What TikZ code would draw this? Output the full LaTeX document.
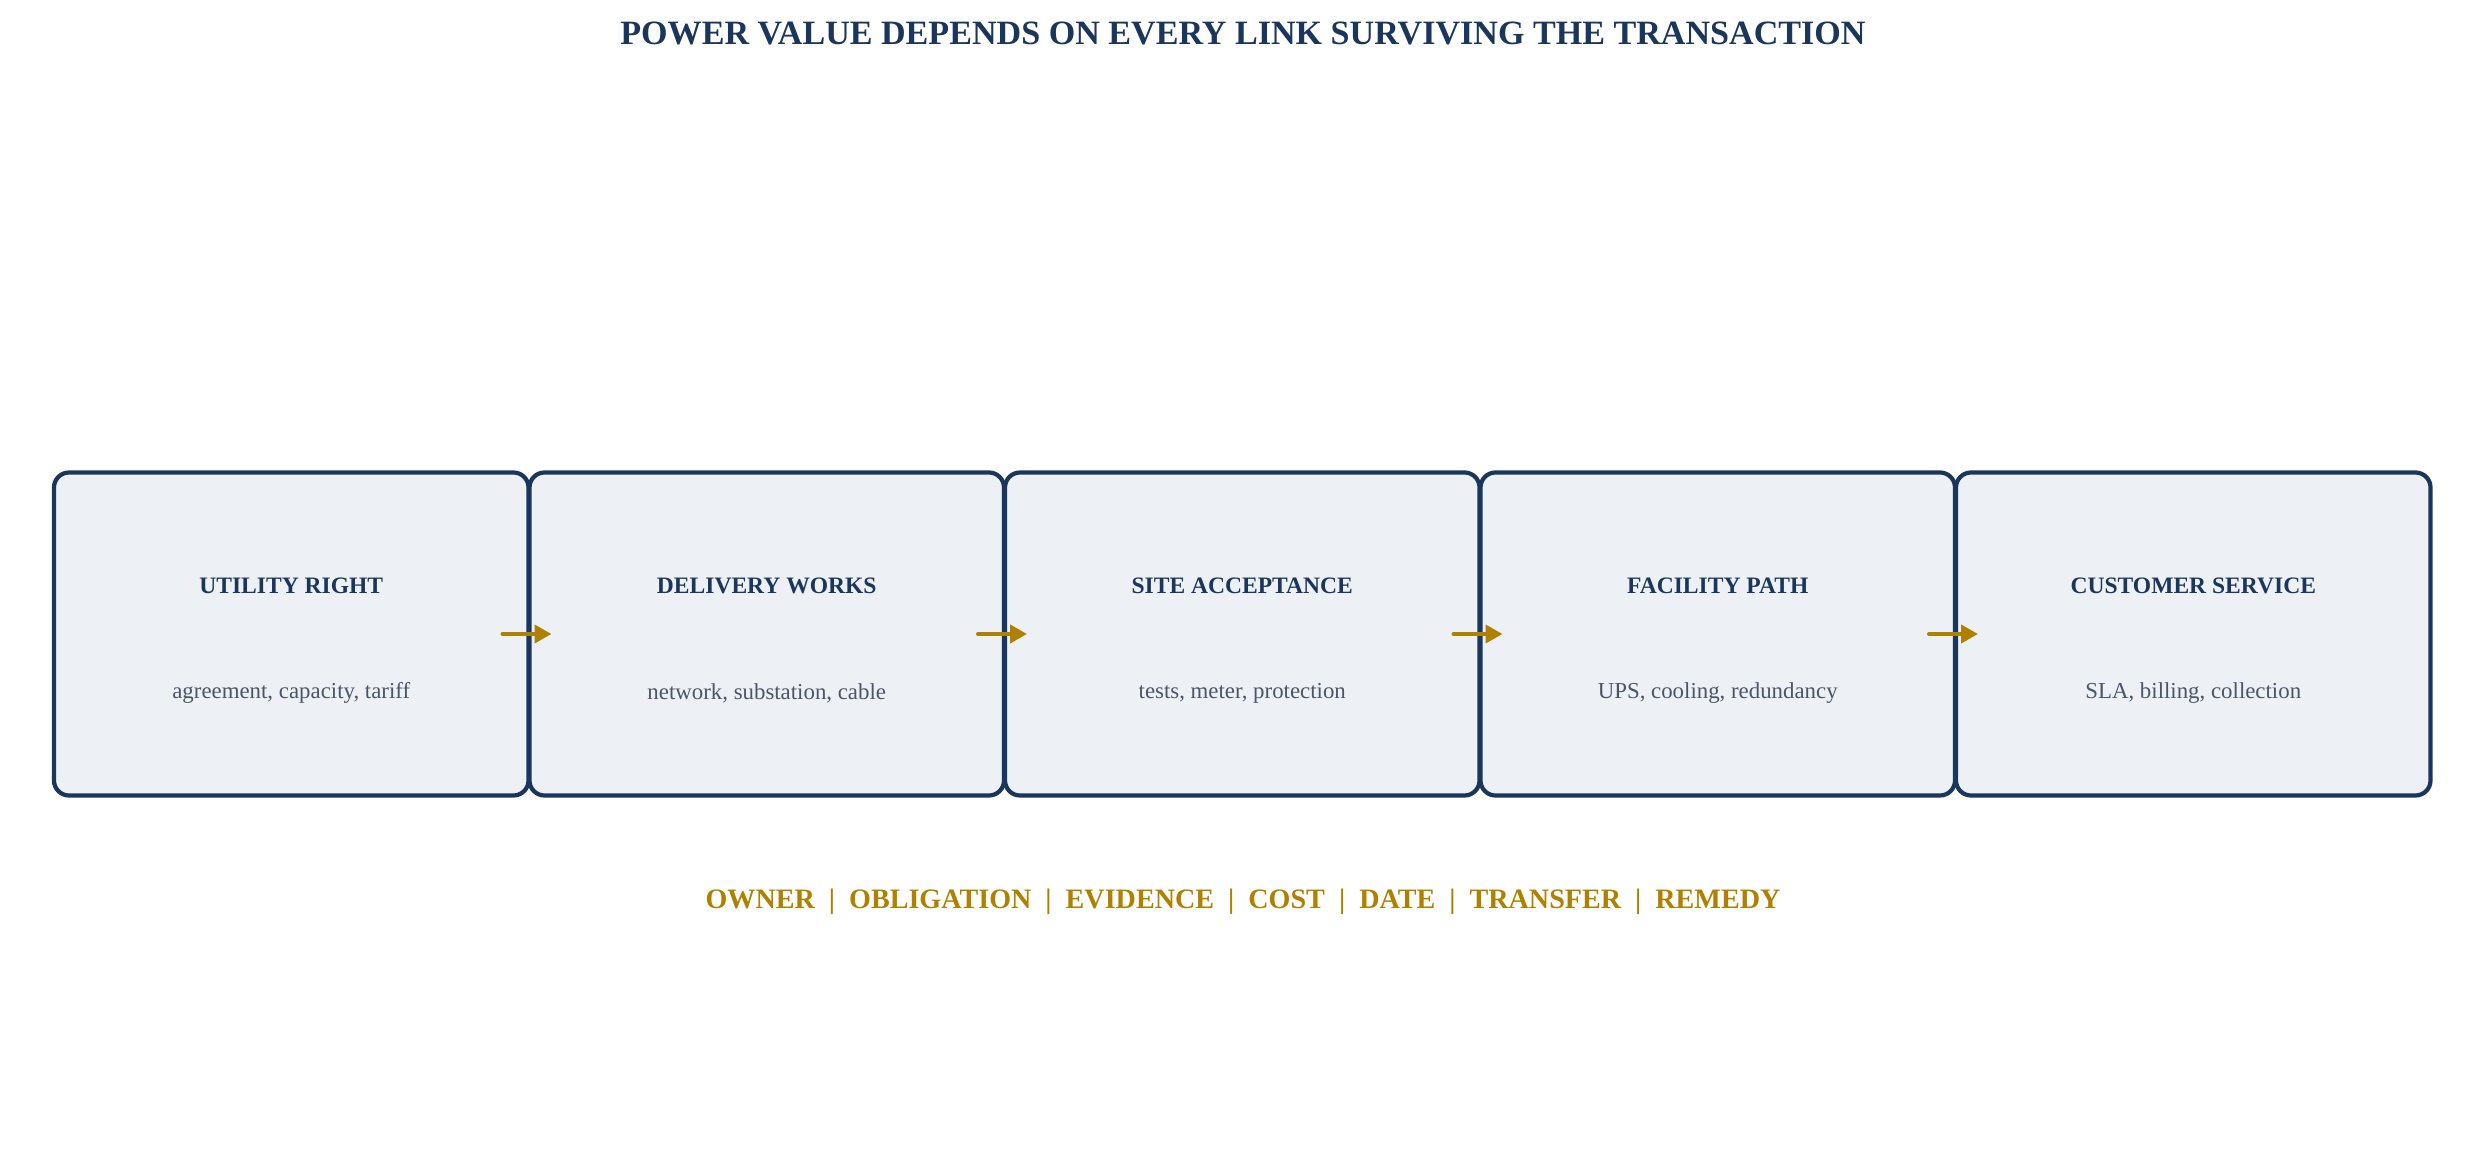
\documentclass[tikz,border=0pt]{standalone}
\usepackage{fontspec}
\setmainfont{Liberation Serif}
\usepackage{xcolor}
\usepackage{tikz}
\usetikzlibrary{shapes,arrows.meta,positioning,calc}

\definecolor{navy}{HTML}{1B365D}
\definecolor{gold}{HTML}{B08000}
\definecolor{paleblue}{HTML}{EDF1F5}
\definecolor{slate}{HTML}{4A5568}

\tikzset{
  linkbox/.style={draw=navy, fill=paleblue, line width=1.2pt, rounded corners=0.15cm,
    minimum width=4.745cm, minimum height=3.23cm, outer sep=0pt, inner sep=0pt},
  linkhead/.style={text=navy, font=\fontsize{6.7}{8}\selectfont\bfseries},
  linksub/.style={text=slate, font=\fontsize{6.5}{8}\selectfont},
  linkarrow/.style={draw=gold, line width=1.15pt, line cap=round,
    -{Triangle[length=0.17cm, width=0.18cm]}}
}

\begin{document}
\begin{tikzpicture}
\useasboundingbox (0,0) rectangle (24.86,11.66);

% Title
\node[text=navy, font=\fontsize{9.7}{12}\selectfont\bfseries] (title) at (12.43,11.33)
  {POWER VALUE DEPENDS ON EVERY LINK SURVIVING THE TRANSACTION};

% Chain of links
\node[linkbox] (b1) at (2.9125,5.32) {};
\node[linkbox, right=0.01cm of b1] (b2) {};
\node[linkbox, right=0.01cm of b2] (b3) {};
\node[linkbox, right=0.01cm of b3] (b4) {};
\node[linkbox, right=0.01cm of b4] (b5) {};

\foreach \i/\head/\sub in {1/UTILITY RIGHT/{agreement, capacity, tariff},
    2/DELIVERY WORKS/{network, substation, cable},
    3/SITE ACCEPTANCE/{tests, meter, protection},
    4/FACILITY PATH/{UPS, cooling, redundancy},
    5/CUSTOMER SERVICE/{SLA, billing, collection}} {
  \node[linkhead] (h\i) at ([yshift=0.485cm]b\i.center) {\head};
  \node[linksub] (s\i) at ([yshift=-0.59cm]b\i.center) {\sub};
}

% Arrows between links
\foreach \i/\j in {1/2,2/3,3/4,4/5}
  \draw[linkarrow] ([xshift=-0.26cm]b\i.east) -- ([xshift=0.22cm]b\j.west);

% Checklist
\node[text=gold, font=\fontsize{8}{10}\selectfont\bfseries] (check) at (12.43,2.64)
  {OWNER \ | \ OBLIGATION \ | \ EVIDENCE \ | \ COST \ | \ DATE \ | \ TRANSFER \ | \ REMEDY};
\end{tikzpicture}
\end{document}
